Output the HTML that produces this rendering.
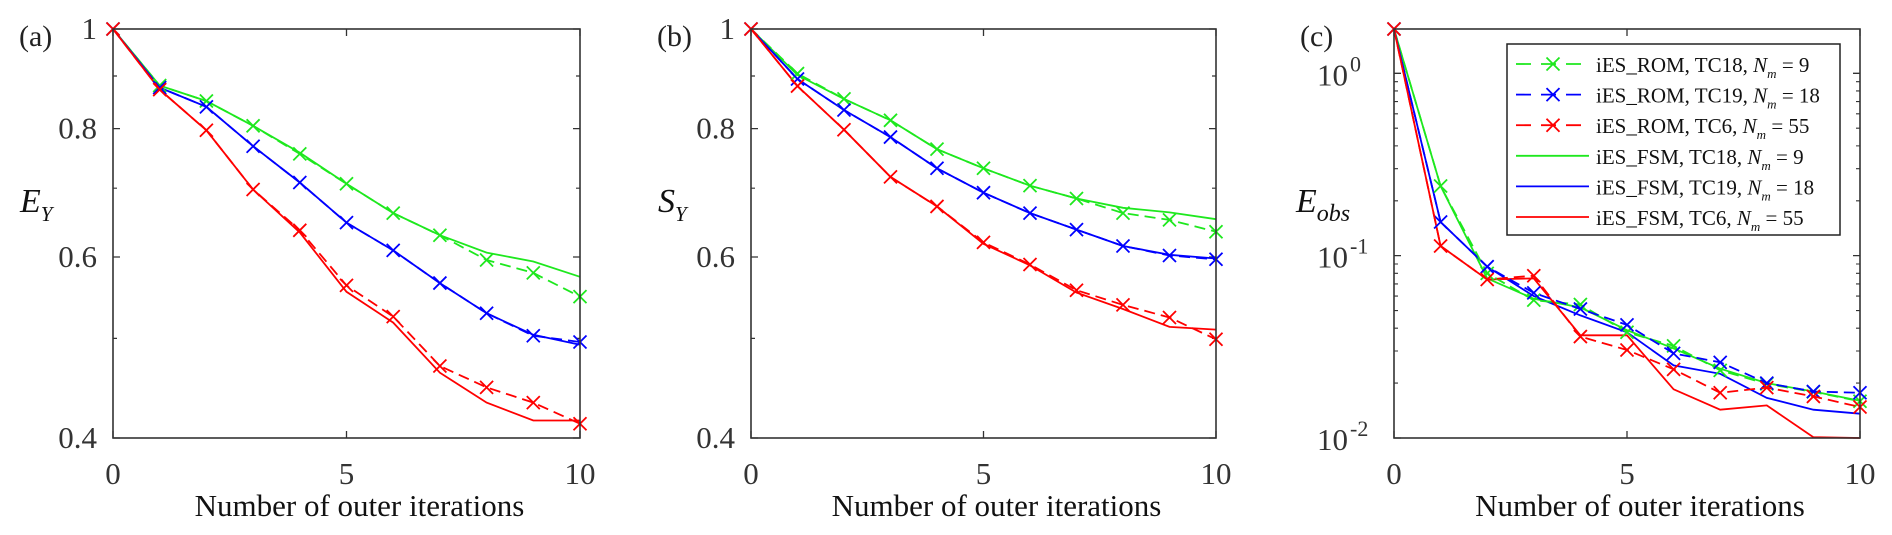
<!DOCTYPE html>
<html><head><meta charset="utf-8"><style>
body{margin:0;background:#fff}
svg{display:block;font-family:"Liberation Serif",serif}
</style></head><body>
<svg id="fig" width="1892" height="535" viewBox="0 0 1892 535"></svg>
<script>
const iters=[0,1,2,3,4,5,6,7,8,9,10];
// Panel (a) E_Y
const aGreenROM=[1,0.881,0.851,0.805,0.756,0.707,0.662,0.630,0.596,0.579,0.549];
const aGreenFSM=[1,0.881,0.851,0.805,0.758,0.707,0.662,0.630,0.606,0.594,0.574];
const aBlueROM=[1,0.877,0.840,0.769,0.709,0.648,0.609,0.566,0.529,0.503,0.496];
const aBlueFSM=[1,0.877,0.840,0.769,0.709,0.648,0.609,0.566,0.529,0.504,0.493];
const aRedROM=[1,0.873,0.797,0.698,0.637,0.563,0.525,0.470,0.448,0.433,0.413];
const aRedFSM=[1,0.873,0.797,0.698,0.634,0.555,0.518,0.463,0.433,0.416,0.416];
// Panel (b) S_Y
const bGreenROM=[1,0.905,0.855,0.815,0.764,0.732,0.704,0.684,0.662,0.652,0.635];
const bGreenFSM=[1,0.902,0.855,0.815,0.764,0.732,0.704,0.684,0.670,0.663,0.653];
const bBlueROM=[1,0.894,0.834,0.785,0.732,0.693,0.662,0.638,0.615,0.602,0.597];
const bBlueFSM=[1,0.894,0.834,0.785,0.732,0.693,0.662,0.638,0.615,0.603,0.598];
const bRedROM=[1,0.880,0.798,0.718,0.672,0.620,0.590,0.557,0.539,0.524,0.499];
const bRedFSM=[1,0.880,0.798,0.718,0.672,0.618,0.589,0.554,0.534,0.513,0.510];
// Panel (c) E_obs
const cGreenROM=[1.75,0.241,0.080,0.057,0.054,0.038,0.032,0.0235,0.0198,0.0179,0.0159];
const cGreenFSM=[1.75,0.241,0.075,0.058,0.052,0.039,0.031,0.024,0.020,0.018,0.016];
const cBlueROM=[1.75,0.153,0.087,0.0625,0.051,0.0417,0.0291,0.026,0.020,0.018,0.0177];
const cBlueFSM=[1.75,0.153,0.087,0.060,0.047,0.038,0.025,0.0225,0.0166,0.0143,0.0136];
const cRedROM=[1.75,0.113,0.074,0.0776,0.036,0.0304,0.0238,0.0177,0.0189,0.0169,0.0148];
const cRedFSM=[1.75,0.113,0.074,0.075,0.0366,0.0366,0.0185,0.0143,0.0151,0.0101,0.0100];
const xTicks=[0,5,10];
const abTicks=[0.4,0.6,0.8,1];
const abMinor=[0.5,0.7,0.9];
const cTicks=[-2,-1,0];
const legendLabels=[["iES_ROM, TC18, ","9"],["iES_ROM, TC19, ","18"],["iES_ROM, TC6, ","55"],["iES_FSM, TC18, ","9"],["iES_FSM, TC19, ","18"],["iES_FSM, TC6, ","55"]];

const NS="http://www.w3.org/2000/svg";
const svg=document.getElementById('fig');
function mk(tag,attrs,parent){const e=document.createElementNS(NS,tag);for(const k in attrs)e.setAttribute(k,attrs[k]);(parent||svg).appendChild(e);return e;}
const GREEN="#1ee81e",BLUE="#0000ff",RED="#ff0000",AX="#333";
const TOP=29,BOT=438;

function panel(id,left,right,ymin,ymax,series,label,ylabel,ysub,isC){
  const g=mk('g',{});
  
  
  const lmin=Math.log10(ymin),lmax=Math.log10(ymax);
  const X=v=>left+(v-0)/(10-0)*(right-left);
  const Y=v=>TOP+(lmax-Math.log10(v))/(lmax-lmin)*(BOT-TOP);
  // ticks
  xTicks.forEach(t=>{
    const x=X(t);
    const tk=mk('path',{d:`M${x},${BOT}V${BOT-7}M${x},${TOP}V${TOP+7}`,stroke:AX,'stroke-width':1.3},g);
    
    
    const tl=mk('text',{x:x,y:484,'font-size':31,'text-anchor':'middle',fill:'#333'},g);
    tl.textContent=t;
    
    
  });
  if(!isC){
    abTicks.forEach(t=>{
      const y=Y(t);
      const tk=mk('path',{d:`M${left},${y}H${left+7}M${right},${y}H${right-7}`,stroke:AX,'stroke-width':1.3},g);
      
      
      const tl=mk('text',{x:left-16,y:y+10,'font-size':31,'text-anchor':'end',fill:'#333'},g);
      tl.textContent=String(t);
      
      
    });
    abMinor.forEach(t=>{
      const y=Y(t);
      const tk=mk('path',{d:`M${left},${y}H${left+4}M${right},${y}H${right-4}`,stroke:AX,'stroke-width':1.2},g);
      
      
    });
  } else {
    cTicks.forEach(p=>{
      const y=Y(Math.pow(10,p));
      const tk=mk('path',{d:`M${left},${y}H${left+7}M${right},${y}H${right-7}`,stroke:AX,'stroke-width':1.3},g);
      
      
      const tl=mk('text',{x:left-46,y:y+12,'font-size':31,'text-anchor':'end',fill:'#333'},g);
      
      
      tl.textContent='10';
      const sp=mk('text',{x:left-44,y:y-2,'font-size':22,'text-anchor':'start',fill:'#333'},g);
      sp.textContent=p===0?'0':'-'+(-p);
      
      
    });
    for(let p=-2;p<=0;p++)for(let m=2;m<=9;m++){
      const v=m*Math.pow(10,p); if(v>ymax)continue;
      const y=Y(v);
      const tk=mk('path',{d:`M${left},${y}H${left+4}M${right},${y}H${right-4}`,stroke:AX,'stroke-width':1.1},g);
      
      
    }
  }
  // series
  series.forEach(s=>{
    const pts=s.data.map((v,i)=>X(iters[i]).toFixed(1)+','+Y(v).toFixed(1)).join(' ');
    const pl=mk('polyline',{points:pts,fill:'none',stroke:s.color,'stroke-width':1.8,'stroke-dasharray':s.dash?'11 6':'none'},g);
    
    
    if(s.dash){
      s.data.forEach((v,i)=>{
        const x=X(iters[i]),y=Y(v),r=6.5;
        const mkx=mk('path',{d:`M${x-r},${y-r}L${x+r},${y+r}M${x-r},${y+r}L${x+r},${y-r}`,stroke:s.color,'stroke-width':1.8},g);
        
        
      });
    }
  });
  const box=mk('rect',{x:left,y:TOP,width:right-left,height:BOT-TOP,fill:'none',stroke:AX,'stroke-width':1.6},g);
  
  
  const pl=mk('text',{x:left-94,y:46,'font-size':30,fill:'#222'},g);
  pl.textContent=label;
  
  
  const xt=mk('text',{x:(left+right)/2+13,y:516,'font-size':31,'text-anchor':'middle',fill:'#111'},g);
  xt.textContent='Number of outer iterations';
  
  
  const yt=mk('text',{x:isC?left-98:left-93,y:212,'font-size':34,'font-style':'italic',fill:'#111'},g);
  
  
  yt.textContent=ylabel;
  const ys=mk('tspan',{dy:9,'font-size':isC?24:21},yt);
  ys.textContent=ysub;
  return {X,Y,g};
}
function S(data,color,dash,name){return {data,color,dash,name};}
panel('a',113,580,0.4,1,[
  S(aGreenFSM,GREEN,false,'line-fsm-tc18'),S(aBlueFSM,BLUE,false,'line-fsm-tc19'),S(aRedFSM,RED,false,'line-fsm-tc6'),
  S(aGreenROM,GREEN,true,'line-rom-tc18'),S(aBlueROM,BLUE,true,'line-rom-tc19'),S(aRedROM,RED,true,'line-rom-tc6')],'(a)','E','Y',false);
panel('b',751,1216,0.4,1,[
  S(bGreenFSM,GREEN,false,'line-fsm-tc18'),S(bBlueFSM,BLUE,false,'line-fsm-tc19'),S(bRedFSM,RED,false,'line-fsm-tc6'),
  S(bGreenROM,GREEN,true,'line-rom-tc18'),S(bBlueROM,BLUE,true,'line-rom-tc19'),S(bRedROM,RED,true,'line-rom-tc6')],'(b)','S','Y',false);
panel('c',1394,1860,0.01,1.75,[
  S(cGreenFSM,GREEN,false,'line-fsm-tc18'),S(cBlueFSM,BLUE,false,'line-fsm-tc19'),S(cRedFSM,RED,false,'line-fsm-tc6'),
  S(cGreenROM,GREEN,true,'line-rom-tc18'),S(cBlueROM,BLUE,true,'line-rom-tc19'),S(cRedROM,RED,true,'line-rom-tc6')],'(c)','E','obs',true);

// legend
const lg=mk('g',{});


const lb=mk('rect',{x:1507,y:44,width:333,height:191,fill:'#fff',stroke:'#222','stroke-width':1.5},lg);


const lcolors=[GREEN,BLUE,RED,GREEN,BLUE,RED];
legendLabels.forEach((lab,i)=>{
  const y=64+i*30.6;
  const dash=i<3;
  const ln=mk('line',{x1:1516,x2:1589,y1:y,y2:y,stroke:lcolors[i],'stroke-width':1.8,'stroke-dasharray':dash?'15 10':'none'},lg);
  
  
  if(dash){
    const r=6.5,x=1553;
    const m=mk('path',{d:`M${x-r},${y-r}L${x+r},${y+r}M${x-r},${y+r}L${x+r},${y-r}`,stroke:lcolors[i],'stroke-width':1.8},lg);
    
    
  }
  const t=mk('text',{x:1596,y:y+8,'font-size':21,fill:'#111'},lg);
  
  
  const t1=mk('tspan',{},t);t1.textContent=lab[0];
  const t2=mk('tspan',{'font-style':'italic'},t);t2.textContent='N';
  const t3=mk('tspan',{'font-style':'italic','font-size':13,dy:6},t);t3.textContent='m';
  const t4=mk('tspan',{dy:-6},t);t4.textContent=' = '+lab[1];
});
</script>
</body></html>
